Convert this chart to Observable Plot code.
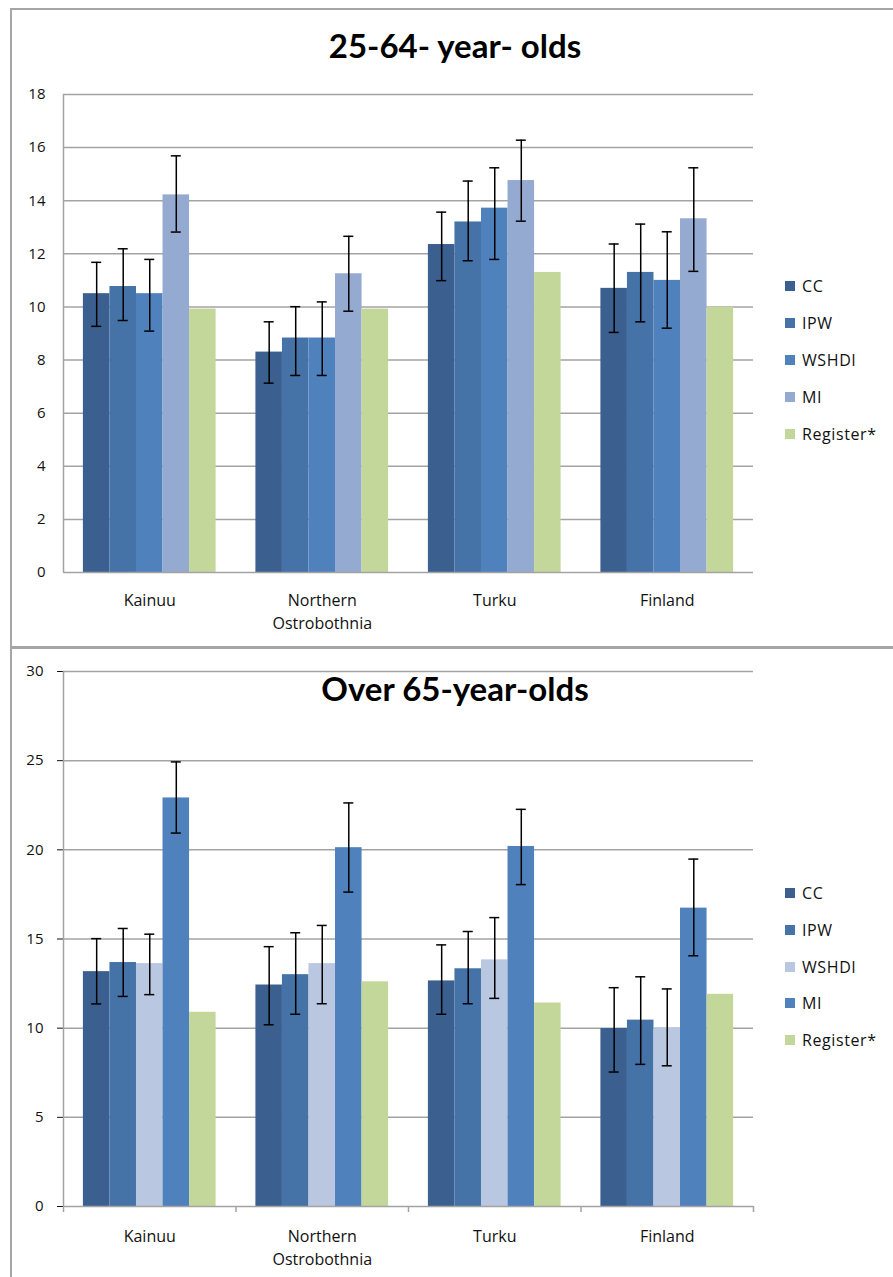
<!DOCTYPE html>
<html><head><meta charset="utf-8">
<script src="https://cdn.jsdelivr.net/npm/d3@7"></script>
<script src="https://cdn.jsdelivr.net/npm/@observablehq/plot@0.6"></script>
<style>
body{margin:0;background:#fff;width:893px;height:1277px;position:relative;overflow:hidden;font-family:"Open Sans",sans-serif;color:#111}
.panel{position:absolute;border:2px solid #a6a6a6;box-sizing:border-box}
.title{position:absolute;font-family:Lato,sans-serif;font-weight:bold;transform:translate(-50%,-50%);white-space:nowrap;color:#000}
.chart{position:absolute;left:0}
.legend{position:absolute;left:785px;font-size:16px;letter-spacing:0.6px}
.item{position:absolute;left:0;display:flex;align-items:center;white-space:nowrap;transform:translateY(-50%)}
.sw{width:10px;height:10px;margin-right:7px}
</style></head><body>
<div class="panel" style="left:10px;top:8px;width:900px;height:640px"></div>
<div class="panel" style="left:10px;top:647px;width:900px;height:660px"></div>
<div id="c1" class="chart" style="top:70px"></div>
<div id="c2" class="chart" style="top:650px"></div>
<div class="title" style="left:455px;top:45px;font-size:33px">25-64- year- olds</div>
<div class="title" style="left:455px;top:688px;font-size:33px">Over 65-year-olds</div>
<div id="l1" class="legend" style="top:0"></div>
<div id="l2" class="legend" style="top:0"></div>
<script>
const categories = ["Kainuu", "Northern Ostrobothnia", "Turku", "Finland"];
const categoryLabels = ["Kainuu", "Northern\nOstrobothnia", "Turku", "Finland"];
const series = ["CC", "IPW", "WSHDI", "MI", "Register*"];

// 25-64-year-olds
const top_CC = [10.5, 8.3, 12.35, 10.7];
const top_IPW = [10.77, 8.83, 13.2, 11.3];
const top_WSHDI = [10.5, 8.83, 13.72, 11.0];
const top_MI = [14.22, 11.25, 14.76, 13.32];
const top_Register = [9.92, 9.92, 11.3, 9.99];
const top_CC_lo = [9.27, 7.13, 10.99, 9.04], top_CC_hi = [11.68, 9.44, 13.57, 12.37];
const top_IPW_lo = [9.49, 7.42, 11.74, 9.44], top_IPW_hi = [12.19, 10.01, 14.74, 13.12];
const top_WSHDI_lo = [9.09, 7.42, 11.79, 9.2], top_WSHDI_hi = [11.79, 10.19, 15.24, 12.83];
const top_MI_lo = [12.82, 9.84, 13.23, 11.34], top_MI_hi = [15.69, 12.66, 16.28, 15.24];
const top_ticks = [0, 2, 4, 6, 8, 10, 12, 14, 16, 18];
const top_colors = ["#3b6090", "#4572a7", "#4f81bd", "#95aad1", "#c4d79b"];

// Over 65-year-olds
const bot_CC = [13.17, 12.42, 12.65, 9.98];
const bot_IPW = [13.68, 13.0, 13.33, 10.45];
const bot_WSHDI = [13.62, 13.62, 13.83, 10.02];
const bot_MI = [22.91, 20.12, 20.19, 16.73];
const bot_Register = [10.89, 12.6, 11.41, 11.9];
const bot_CC_lo = [11.36, 10.19, 10.78, 7.54], bot_CC_hi = [15.02, 14.57, 14.67, 12.27];
const bot_IPW_lo = [11.78, 10.78, 11.37, 7.97], bot_IPW_hi = [15.59, 15.35, 15.42, 12.88];
const bot_WSHDI_lo = [11.88, 11.37, 11.67, 7.89], bot_WSHDI_hi = [15.27, 15.76, 16.2, 12.2];
const bot_MI_lo = [20.94, 17.63, 18.05, 14.06], bot_MI_hi = [24.93, 22.63, 22.27, 19.48];
const bot_ticks = [0, 5, 10, 15, 20, 25, 30];
const bot_colors = ["#3b6090", "#4572a7", "#b9c7e1", "#4f81bd", "#c4d79b"];

const GRID = "#a3a3a3";
const PI = 1.5 / 6.5;

function makeRows(values, lo, hi) {
  return categories.flatMap((c, ci) => series.map((s, si) => ({
    cat: c, series: s, si, value: values[si][ci],
    lo: lo[si] ? lo[si][ci] : null, hi: hi[si] ? hi[si][ci] : null
  })));
}

function build(cfg, bw, step) {
  const rows = cfg.rows;
  const marks = [Plot.ruleY(cfg.ticks.slice(1), {stroke: GRID, strokeWidth: 1.5})];
  series.forEach((s, i) => {
    marks.push(Plot.barY(rows.filter(r => r.si === i), {x: "cat", y: "value", fill: "series",
      insetLeft: i * bw, insetRight: (4 - i) * bw}));
  });
  const capW = 10, ci = (bw - capW) / 2;
  series.forEach((s, i) => {
    const d = rows.filter(r => r.si === i && r.lo != null);
    if (!d.length) return;
    marks.push(Plot.ruleX(d, {x: "cat", y1: "lo", y2: "hi", dx: (i - 2) * bw, stroke: "#000", strokeWidth: 1.5}));
    marks.push(Plot.tickY(d, {x: "cat", y: "hi", insetLeft: i * bw + ci, insetRight: (4 - i) * bw + ci, stroke: "#000", strokeWidth: 1.5}));
    marks.push(Plot.tickY(d, {x: "cat", y: "lo", insetLeft: i * bw + ci, insetRight: (4 - i) * bw + ci, stroke: "#000", strokeWidth: 1.5}));
  });
  marks.push(Plot.ruleY([0], {stroke: GRID, strokeWidth: 1.5}));
  marks.push(Plot.ruleX([categories[0]], {dx: -step / 2, stroke: GRID, strokeWidth: 1.5}));
  if (cfg.xTicks) {
    marks.push(Plot.ruleX(categories, {x: d => d, y1: 0, y2: 0, dx: step / 2, insetBottom: -6, stroke: GRID, strokeWidth: 1.5}));
    marks.push(Plot.ruleX([categories[0]], {y1: 0, y2: 0, dx: -step / 2, insetBottom: -6, stroke: GRID, strokeWidth: 1.5}));
  }
  marks.push(Plot.text(categories, {x: d => d, text: (d, i) => categoryLabels[i], frameAnchor: "bottom",
    lineAnchor: "top", dy: cfg.labelDy, fontSize: 16, lineHeight: 1.44, fill: "#111",
    letterSpacing: "0.6px"}));
  return Plot.plot({
    width: 893, height: cfg.height,
    marginLeft: 63, marginRight: 140, marginTop: cfg.marginTop, marginBottom: cfg.marginBottom,
    style: {fontFamily: "'Open Sans', sans-serif", fontSize: "15px", color: "#111", background: "transparent"},
    x: {domain: categories, paddingInner: PI, paddingOuter: PI / 2, round: false, axis: null},
    y: {domain: [0, cfg.ticks[cfg.ticks.length - 1]], ticks: cfg.ticks, tickSize: cfg.tickSize, tickPadding: cfg.tickPadding, label: null},
    color: {domain: series, range: cfg.colors},
    marks
  });
}

function render(el, cfg) {
  const p0 = build(cfg, 0, 0);
  const xs = p0.scale("x");
  const bw = xs.bandwidth / 5;
  const step = xs.step || xs.bandwidth / (1 - PI);
  document.getElementById(el).appendChild(build(cfg, bw, step));
}

render("c1", {
  rows: makeRows([top_CC, top_IPW, top_WSHDI, top_MI, top_Register],
    [top_CC_lo, top_IPW_lo, top_WSHDI_lo, top_MI_lo, null],
    [top_CC_hi, top_IPW_hi, top_WSHDI_hi, top_MI_hi, null]),
  ticks: top_ticks, colors: top_colors, height: 572, marginTop: 24, marginBottom: 70,
  tickSize: 0, tickPadding: 18, labelDy: 17, xTicks: false
});
render("c2", {
  rows: makeRows([bot_CC, bot_IPW, bot_WSHDI, bot_MI, bot_Register],
    [bot_CC_lo, bot_IPW_lo, bot_WSHDI_lo, bot_MI_lo, null],
    [bot_CC_hi, bot_IPW_hi, bot_WSHDI_hi, bot_MI_hi, null]),
  ticks: bot_ticks, colors: bot_colors, height: 621, marginTop: 21, marginBottom: 65,
  tickSize: 6, tickPadding: 14, labelDy: 19, xTicks: true
});

function legend(el, colors, ys) {
  const root = document.getElementById(el);
  series.forEach((s, i) => {
    const it = document.createElement("div");
    it.className = "item";
    it.style.top = ys[i] + "px";
    it.innerHTML = `<span class="sw" style="background:${colors[i]}"></span><span>${s}</span>`;
    root.appendChild(it);
  });
}
legend("l1", top_colors, [286, 323, 360, 397, 434]);
legend("l2", bot_colors, [893, 930, 967, 1003, 1040]);
</script>
</body></html>
